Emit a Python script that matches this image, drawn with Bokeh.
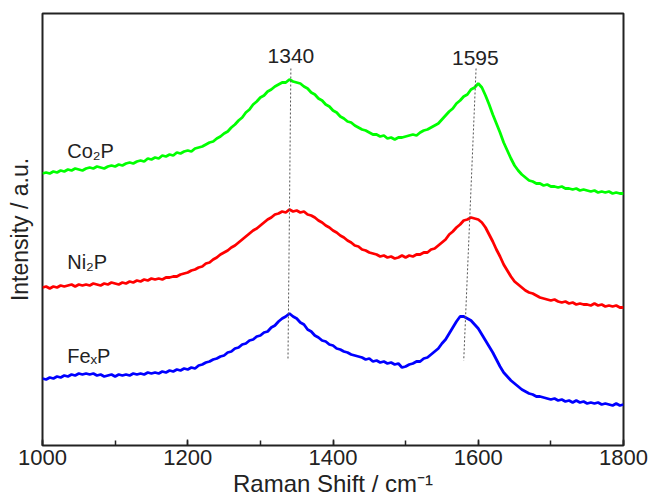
from bokeh.plotting import figure
from bokeh.models import Range1d, SingleIntervalTicker, FixedTicker, Label
from bokeh.embed import file_html
from bokeh.resources import INLINE

# Raman shift axis (cm^-1), sampled every 5 cm^-1
shift = list(range(1000, 1801, 5))

# Stacked Raman spectra (arbitrary intensity units, vertically offset)
co2p = [272, 273, 272, 274, 273, 275, 274, 276, 275, 277,
        276, 275, 277, 278, 277, 279, 278, 277, 279, 280,
        279, 281, 280, 282, 283, 282, 284, 285, 284, 287,
        286, 288, 287, 290, 289, 291, 290, 293, 292, 294,
        295, 294, 297, 298, 299, 301, 303, 304, 307, 309,
        312, 314, 318, 321, 325, 328, 333, 336, 341, 344,
        348, 350, 354, 356, 359, 361, 363, 363, 366, 364,
        363, 362, 359, 357, 353, 351, 347, 345, 341, 339,
        335, 333, 329, 327, 324, 323, 320, 318, 316, 315,
        313, 311, 311, 309, 310, 307, 308, 306, 308, 308,
        309, 310, 311, 310, 313, 315, 316, 318, 320, 322,
        326, 330, 334, 337, 342, 345, 349, 351, 356, 358,
        362, 358, 350, 341, 331, 322, 313, 303, 295, 287,
        280, 275, 271, 268, 265, 264, 262, 262, 260, 261,
        259, 259, 258, 259, 257, 257, 256, 257, 255, 256,
        255, 254, 255, 253, 254, 253, 254, 252, 253, 252,
        252]

ni2p = [158, 159, 157, 159, 158, 160, 159, 160, 161, 159,
        161, 160, 161, 160, 162, 161, 160, 162, 161, 163,
        162, 161, 163, 162, 164, 163, 165, 164, 166, 165,
        167, 166, 167, 166, 168, 168, 169, 169, 171, 172,
        173, 175, 176, 178, 179, 182, 183, 186, 188, 191,
        193, 195, 198, 200, 203, 206, 209, 212, 215, 217,
        220, 223, 226, 228, 231, 232, 234, 233, 236, 234,
        235, 233, 234, 231, 230, 228, 225, 223, 220, 218,
        215, 213, 210, 208, 205, 203, 200, 199, 196, 195,
        193, 192, 191, 189, 190, 188, 189, 187, 188, 190,
        188, 190, 189, 191, 191, 193, 193, 196, 197, 200,
        203, 206, 211, 214, 218, 221, 225, 226, 228, 227,
        226, 223, 218, 211, 204, 196, 189, 181, 175, 169,
        164, 161, 158, 155, 153, 152, 150, 148, 147, 146,
        145, 146, 144, 143, 144, 142, 143, 141, 142, 141,
        141, 140, 142, 140, 141, 139, 140, 139, 140, 138,
        138]

fexp = [67, 66, 68, 67, 69, 68, 70, 69, 71, 70,
        72, 71, 72, 71, 72, 70, 71, 69, 70, 71,
        69, 71, 70, 71, 70, 72, 71, 72, 71, 73,
        72, 73, 72, 74, 73, 75, 74, 76, 75, 77,
        76, 78, 77, 80, 81, 83, 84, 86, 87, 89,
        90, 93, 94, 97, 98, 101, 102, 105, 106, 109,
        110, 113, 114, 118, 120, 124, 127, 129, 132, 129,
        127, 123, 121, 116, 114, 110, 108, 105, 104, 101,
        100, 97, 96, 94, 93, 91, 90, 89, 88, 86,
        87, 84, 85, 83, 84, 82, 83, 81, 82, 78,
        79, 81, 82, 84, 84, 87, 88, 91, 94, 97,
        102, 106, 112, 118, 124, 129, 129, 127, 125, 121,
        117, 111, 105, 99, 93, 86, 79, 73, 69, 65,
        62, 59, 56, 54, 52, 51, 49, 49, 48, 47,
        46, 47, 45, 46, 44, 45, 43, 45, 43, 44,
        42, 43, 42, 43, 41, 42, 41, 40, 42, 40,
        41]

series_names = ["Co\u2082P", "Ni\u2082P", "Fe\u2093P"]
series_colors = ["#00ff00", "#ff0000", "#0000ff"]
name_x = [1034, 1034, 1034]
name_y = [295, 184, 90]

# D and G band guides (top, bottom)
band_labels = ["1340", "1595"]
band_label_x = [1342, 1596]
band_label_y = [390, 388]
d_guide_x = [1342, 1338]
g_guide_x = [1597, 1580]
guide_y = [377, 85]

FONT = "Liberation Sans"
INK = "#222222"

p = figure(width=650, height=501, output_backend="svg", toolbar_location=None,
           x_range=Range1d(1000, 1800), y_range=Range1d(0, 432),
           min_border_left=42, min_border_right=27,
           min_border_top=13, min_border_bottom=56)

p.xgrid.visible = False
p.ygrid.visible = False
p.outline_line_color = INK
p.outline_line_width = 2
p.background_fill_color = "white"
p.border_fill_color = "white"

# x axis: ticks every 100, labels every 200, ticks pointing inward
xa = p.xaxis[0]
xa.ticker = SingleIntervalTicker(interval=200, num_minor_ticks=2)
xa.axis_line_color = None
xa.major_tick_in = 6
xa.major_tick_out = 0
xa.minor_tick_in = 5
xa.minor_tick_out = 0
xa.major_tick_line_color = INK
xa.major_tick_line_width = 1.5
xa.minor_tick_line_color = INK
xa.minor_tick_line_width = 1.5
xa.major_label_text_font = FONT
xa.major_label_text_font_size = "22px"
xa.major_label_text_color = INK
xa.major_label_standoff = 4
xa.axis_label = "Raman Shift / cm\u207b\u00b9"
xa.axis_label_text_font = FONT
xa.axis_label_text_font_size = "24px"
xa.axis_label_text_font_style = "normal"
xa.axis_label_text_color = INK
xa.axis_label_standoff = 2

ya = p.yaxis[0]
ya.ticker = FixedTicker(ticks=[])
ya.axis_line_color = None
ya.major_tick_line_color = None
ya.minor_tick_line_color = None
ya.axis_label = "Intensity / a.u."
ya.axis_label_text_font = FONT
ya.axis_label_text_font_size = "23px"
ya.axis_label_text_font_style = "normal"
ya.axis_label_text_color = INK
ya.axis_label_standoff = 10

for ys, c in zip([co2p, ni2p, fexp], series_colors):
    p.line(shift, ys, line_color=c, line_width=2.8)

for gx in (d_guide_x, g_guide_x):
    p.line(gx, guide_y, line_color="#555555", line_width=1, line_dash="2 2")

for t, lx, ly in zip(band_labels, band_label_x, band_label_y):
    p.add_layout(Label(x=lx, y=ly, text=t, text_align="center", text_baseline="middle",
                       text_font=FONT, text_font_size="21px", text_color=INK))

for t, lx, ly in zip(series_names, name_x, name_y):
    p.add_layout(Label(x=lx, y=ly, text=t, text_align="left", text_baseline="middle",
                       text_font=FONT, text_font_size="20px", text_color=INK))

open("out.html", "w").write(file_html(p, INLINE))
